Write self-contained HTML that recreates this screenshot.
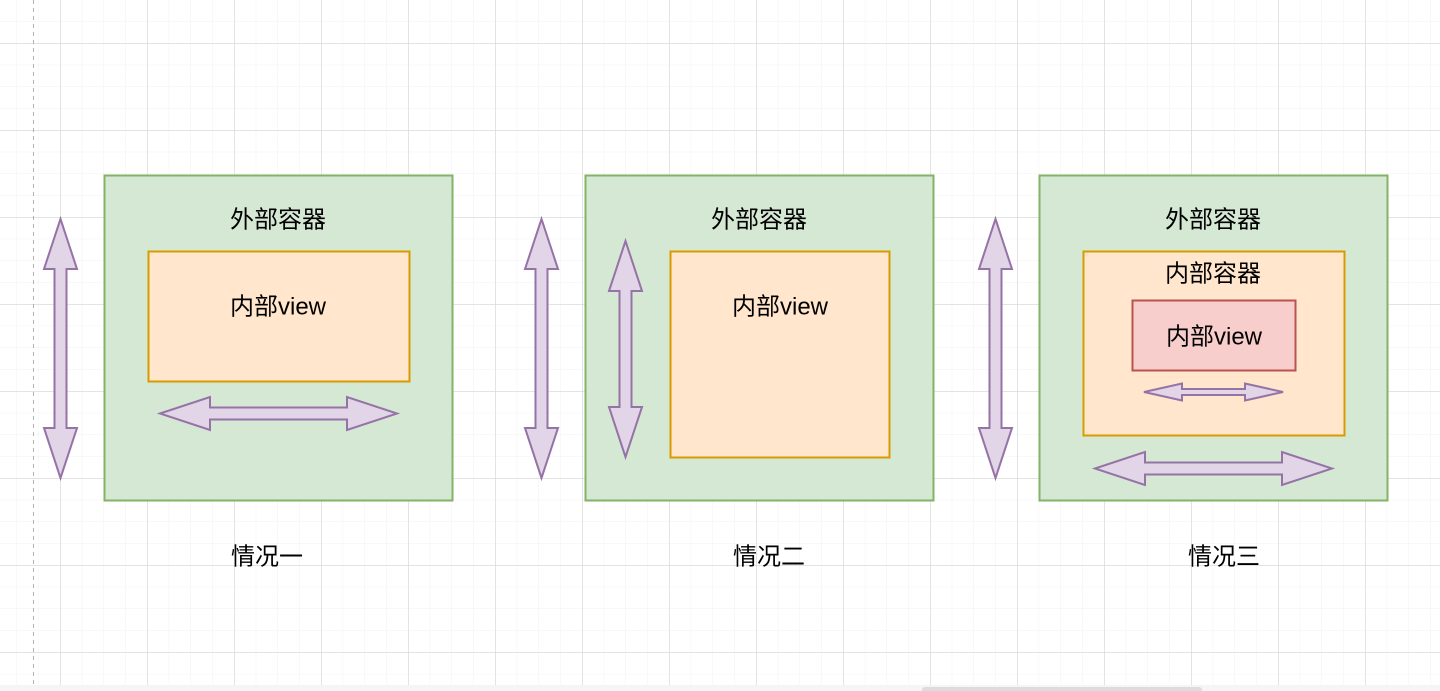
<!DOCTYPE html>
<html><head><meta charset="utf-8"><style>
html,body{margin:0;padding:0;background:#fff;}
svg{display:block;}
text{font-family:"Liberation Sans","Noto Sans CJK SC",sans-serif;font-size:24px;fill:#000;text-anchor:middle;dominant-baseline:central;}
</style></head><body>
<svg width="1440" height="691" viewBox="0 0 1440 691" xmlns="http://www.w3.org/2000/svg">
<defs>
<pattern id="minor" width="21.75" height="21.75" patternUnits="userSpaceOnUse" x="60" y="43">
<path d="M0 0 H21.75 M0 0 V21.75" stroke="#f0f0f0" stroke-width="1" fill="none"/>
</pattern>
<pattern id="major" width="87" height="87" patternUnits="userSpaceOnUse" x="60.5" y="43.5">
<path d="M0 0 H87 M0 0 V87" stroke="#d6d6d6" stroke-width="1" fill="none"/>
</pattern>
</defs>
<rect width="1440" height="685" fill="url(#minor)"/>
<rect width="1440" height="685" fill="url(#major)"/>
<rect y="685" width="1440" height="6" fill="#f5f5f5"/>
<rect x="922" y="687" width="280" height="6" rx="3" fill="#dcdcdc"/>
<line x1="33.5" y1="0" x2="33.5" y2="685" stroke="#b0b0b0" stroke-dasharray="4,4"/>

<!-- case 1 -->
<rect x="104.5" y="175.5" width="348" height="325" fill="#d5e8d4" stroke="#82b366" stroke-width="2"/>
<text x="278" y="220">外部容器</text>
<rect x="148.5" y="251.5" width="261" height="130" fill="#ffe6cc" stroke="#d79b00" stroke-width="2"/>
<text x="278" y="307">内部view</text>
<polygon points="60.5,219 77,269 66.5,269 66.5,428 77,428 60.5,478 44,428 54.5,428 54.5,269 44,269" fill="#e1d5e7" stroke="#9673a6" stroke-width="2"/>
<polygon points="160,413.5 210,397 210,407.5 347,407.5 347,397 397,413.5 347,430 347,419.5 210,419.5 210,430" fill="#e1d5e7" stroke="#9673a6" stroke-width="2"/>
<text x="267" y="557">情况一</text>

<!-- case 2 -->
<rect x="585.5" y="175.5" width="348" height="325" fill="#d5e8d4" stroke="#82b366" stroke-width="2"/>
<text x="759" y="220">外部容器</text>
<rect x="670.5" y="251.5" width="219" height="206" fill="#ffe6cc" stroke="#d79b00" stroke-width="2"/>
<text x="780" y="307">内部view</text>
<polygon points="541.5,219 558,269 547.5,269 547.5,428 558,428 541.5,478 525,428 535.5,428 535.5,269 525,269" fill="#e1d5e7" stroke="#9673a6" stroke-width="2"/>
<polygon points="625.5,241 642,291 631.5,291 631.5,407 642,407 625.5,457 609,407 619.5,407 619.5,291 609,291" fill="#e1d5e7" stroke="#9673a6" stroke-width="2"/>
<text x="769" y="557">情况二</text>

<!-- case 3 -->
<rect x="1039.5" y="175.5" width="348" height="325" fill="#d5e8d4" stroke="#82b366" stroke-width="2"/>
<text x="1213" y="220">外部容器</text>
<rect x="1083.5" y="251.5" width="261" height="184" fill="#ffe6cc" stroke="#d79b00" stroke-width="2"/>
<text x="1213" y="274">内部容器</text>
<rect x="1132.5" y="300.5" width="163" height="70" fill="#f8cecc" stroke="#b85450" stroke-width="2"/>
<text x="1214" y="337">内部view</text>
<polygon points="1144,392 1182,383.5 1182,389 1245,389 1245,383.5 1283,392 1245,400.5 1245,395 1182,395 1182,400.5" fill="#e1d5e7" stroke="#9673a6" stroke-width="2"/>
<polygon points="995.5,219 1012,269 1001.5,269 1001.5,428 1012,428 995.5,478 979,428 989.5,428 989.5,269 979,269" fill="#e1d5e7" stroke="#9673a6" stroke-width="2"/>
<polygon points="1095,468.5 1145,452 1145,462.5 1282,462.5 1282,452 1332,468.5 1282,485 1282,474.5 1145,474.5 1145,485" fill="#e1d5e7" stroke="#9673a6" stroke-width="2"/>
<text x="1224" y="557">情况三</text>
</svg>
</body></html>
